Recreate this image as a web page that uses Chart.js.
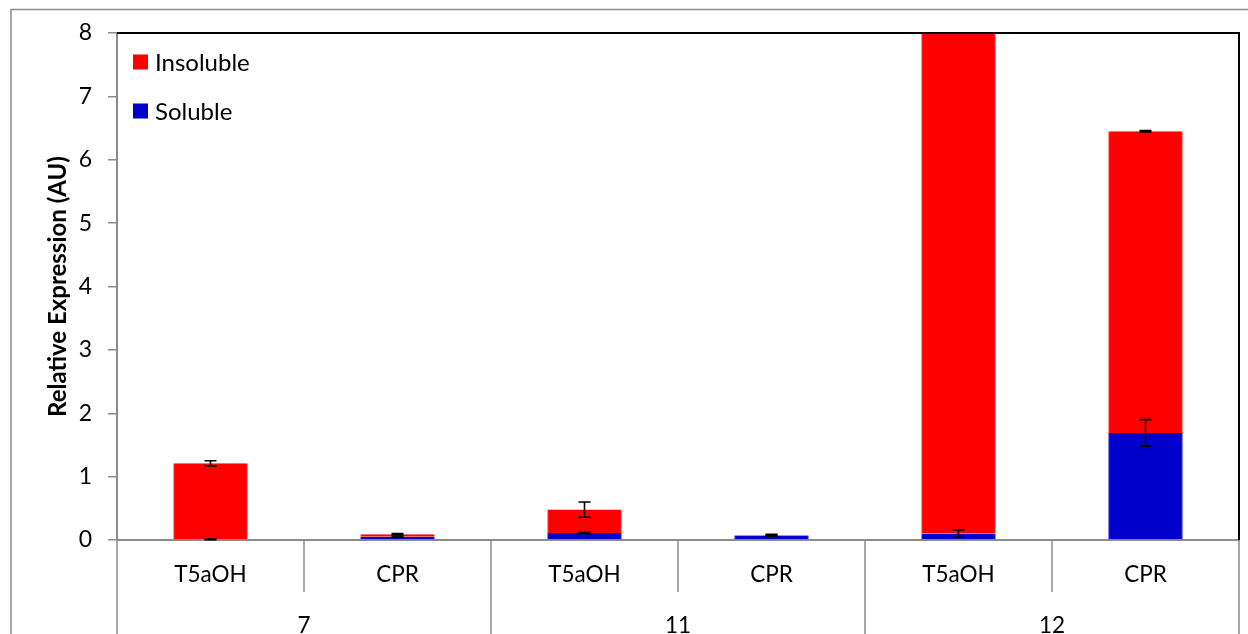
<!DOCTYPE html>
<html>
<head>
<meta charset="utf-8">
<script src="https://cdn.jsdelivr.net/npm/chart.js@4/dist/chart.umd.min.js"></script>
<style>
  html, body { margin: 0; padding: 0; background: #fff; }
  #wrap { position: relative; width: 1248px; height: 634px; overflow: hidden; }
</style>
</head>
<body>
<div id="wrap"><canvas id="grafico" width="1248" height="634"></canvas></div>
<script>
// dados
const subLabels = ['T5aOH', 'CPR', 'T5aOH', 'CPR', 'T5aOH', 'CPR'];
const groupLabels = ['7', '11', '12'];
const soluble = [0.01, 0.05, 0.11, 0.07, 0.10, 1.69];
const insoluble = [1.20, 0.04, 0.37, 0.01, 8.30, 4.76];
const solubleErr = [0.005, 0.01, 0.01, 0.01, 0.06, 0.21];
const insolubleErr = [0.04, 0.01, 0.12, 0.01, 0.20, 0.01];
const yTicks = [0, 1, 2, 3, 4, 5, 6, 7, 8];

const FONT = 'Lato, "Open Sans", sans-serif';
const GRAY = '#8c8c8c';

// barras de erro no topo de cada parte empilhada
const errorBars = {
    id: 'errorBars',
    afterDatasetsDraw(chart) {
        const { ctx, chartArea, scales: { x, y } } = chart;
        ctx.save();
        ctx.beginPath();
        ctx.rect(chartArea.left, chartArea.top, chartArea.right - chartArea.left, chartArea.bottom - chartArea.top + 2);
        ctx.clip();
        ctx.strokeStyle = '#000';
        ctx.lineWidth = 1.6;
        const cap = 6;
        const desenha = (i, topo, err) => {
            const px = x.getPixelForValue(i);
            const y1 = y.getPixelForValue(topo + err);
            const y2 = y.getPixelForValue(Math.max(0, topo - err));
            ctx.beginPath();
            ctx.moveTo(px, y1); ctx.lineTo(px, y2);
            ctx.moveTo(px - cap, y1); ctx.lineTo(px + cap, y1);
            ctx.moveTo(px - cap, y2); ctx.lineTo(px + cap, y2);
            ctx.stroke();
        };
        subLabels.forEach((_, i) => {
            desenha(i, soluble[i], solubleErr[i]);
            desenha(i, soluble[i] + insoluble[i], insolubleErr[i]);
        });
        ctx.restore();
    }
};

// moldura, eixo x em dois níveis e legenda
const moldura = {
    id: 'moldura',
    afterDraw(chart) {
        const { ctx, chartArea: a, scales: { x } } = chart;
        ctx.save();

        // borda externa cinza
        ctx.strokeStyle = GRAY;
        ctx.lineWidth = 1.5;
        ctx.beginPath();
        ctx.moveTo(11, 700); ctx.lineTo(11, 9.5); ctx.lineTo(1300, 9.5);
        ctx.stroke();

        // topo e direita da área do gráfico em preto
        ctx.strokeStyle = '#000';
        ctx.lineWidth = 2;
        ctx.beginPath();
        ctx.moveTo(a.left, a.top); ctx.lineTo(a.right, a.top); ctx.lineTo(a.right, a.bottom);
        ctx.stroke();

        // separadores do eixo x
        ctx.strokeStyle = GRAY;
        ctx.lineWidth = 1.5;
        const n = subLabels.length;
        const bordas = [a.left];
        for (let i = 0; i < n - 1; i++) {
            bordas.push((x.getPixelForValue(i) + x.getPixelForValue(i + 1)) / 2);
        }
        bordas.push(a.right);
        bordas.forEach((bx, k) => {
            const fim = (k % 2 === 0) ? 640 : a.bottom + 52;
            ctx.beginPath();
            ctx.moveTo(bx, a.bottom); ctx.lineTo(bx, fim);
            ctx.stroke();
        });

        ctx.fillStyle = '#000';
        ctx.textAlign = 'center';
        ctx.textBaseline = 'middle';
        ctx.font = '22.5px ' + FONT;
        subLabels.forEach((lab, i) => {
            ctx.fillText(lab, x.getPixelForValue(i), a.bottom + 35);
        });
        groupLabels.forEach((lab, g) => {
            const cx = (x.getPixelForValue(2 * g) + x.getPixelForValue(2 * g + 1)) / 2;
            ctx.fillText(lab, cx, a.bottom + 86);
        });

        // legenda dentro da área
        const itens = [chart.data.datasets[1], chart.data.datasets[0]];
        ctx.textAlign = 'left';
        ctx.font = '24px ' + FONT;
        itens.forEach((ds, k) => {
            const cy = 62 + k * 49;
            ctx.fillStyle = ds.backgroundColor;
            ctx.fillRect(133, cy - 7.5, 15, 15);
            ctx.fillStyle = '#000';
            ctx.fillText(ds.label, 155, cy + 1);
        });

        ctx.restore();
    }
};

const ctx = document.getElementById('grafico').getContext('2d');
new Chart(ctx, {
    type: 'bar',
    data: {
        labels: subLabels,
        datasets: [
            { label: 'Soluble', data: soluble, backgroundColor: '#0000CC', borderColor: '#6b6bdc', borderWidth: { left: 1, right: 1 }, borderSkipped: false },
            { label: 'Insoluble', data: insoluble, backgroundColor: '#FF0000', borderColor: '#ff7a7a', borderWidth: { left: 1, right: 1 }, borderSkipped: false }
        ]
    },
    options: {
        responsive: false,
        animation: false,
        layout: { padding: { top: 33, right: 9, bottom: 94, left: 0 } },
        datasets: { bar: { categoryPercentage: 1, barPercentage: 0.4 } },
        plugins: { legend: { display: false }, tooltip: { enabled: false } },
        scales: {
            x: {
                stacked: true,
                ticks: { display: false },
                grid: { display: false },
                border: { display: true, color: GRAY, width: 2 },
                afterFit(scale) { scale.height = 0; }
            },
            y: {
                stacked: true,
                min: 0,
                max: 8,
                afterBuildTicks(scale) { scale.ticks = yTicks.map(v => ({ value: v })); },
                ticks: { color: '#000', font: { family: FONT, size: 23 }, padding: 16 },
                grid: { drawOnChartArea: false, drawTicks: true, tickLength: 9, color: GRAY, lineWidth: 1.5 },
                border: { color: GRAY, width: 2 },
                title: {
                    display: true,
                    text: 'Relative Expression (AU)',
                    color: '#000',
                    font: { family: FONT, size: 24, weight: 'bold' },
                    padding: { top: 44, bottom: 0 }
                },
                afterFit(scale) { scale.width = 117; }
            }
        }
    },
    plugins: [errorBars, moldura]
});
</script>
</body>
</html>
